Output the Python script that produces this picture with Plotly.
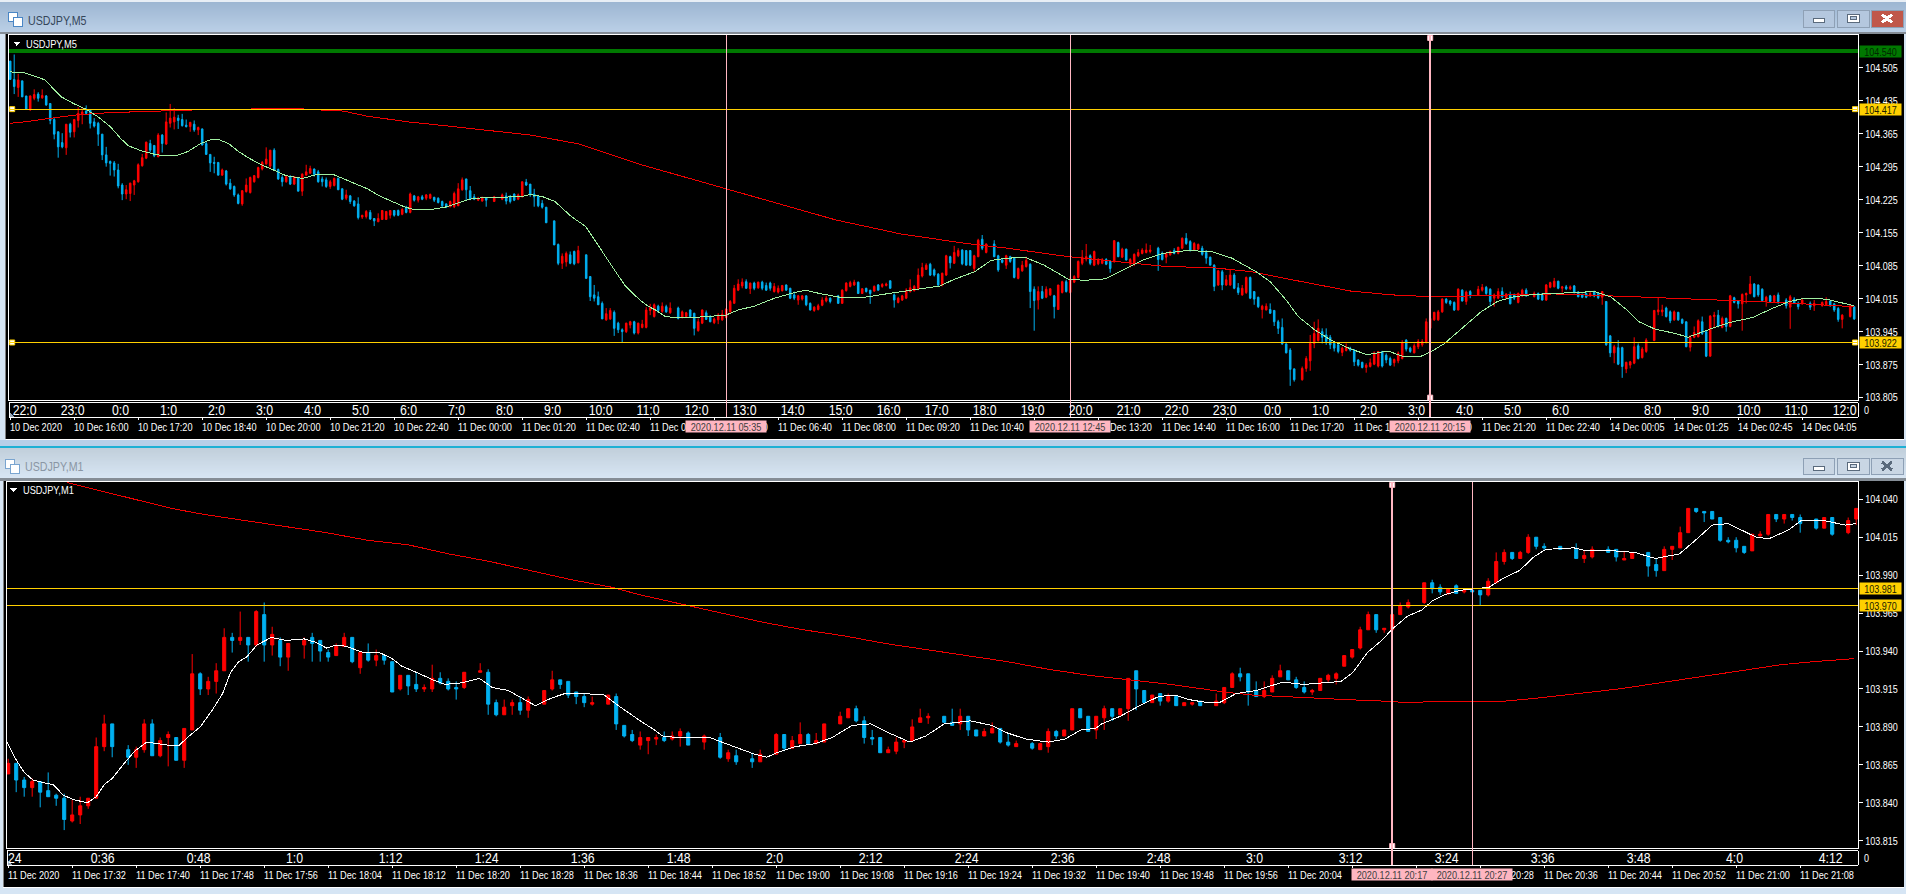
import plotly.graph_objects as go

W, H = 1906, 894
PLOT_H = 891   # height plotly leaves for paper coordinates after its own bottom reserve
FN = "Liberation Sans, sans-serif"

# ---------- M1 panel, price in points above 103.000 ----------
M1_OPEN = [
859,866,855,850,854,848,845,843,828,832,
838,843,877,892,None,875,870,875,892,871,
883,883,868,888,925,915,920,927,949,947,
949,944,964,944,947,936,None,944,949,947,
939,937,943,949,929,939,934,937,933,915,
924,918,915,915,922,920,916,916,None,926,
926,906,898,904,906,901,None,905,915,921,
920,913,910,905,None,905,910,891,885,878,
881,882,883,882,884,886,None,880,None,883,
869,871,None,869,867,None,872,885,876,879,
885,879,880,None,892,896,902,894,883,883,
873,874,880,881,893,896,None,897,893,892,
897,888,884,886,889,880,877,None,879,875,
877,887,884,888,902,897,888,896,902,898,
902,927,914,906,912,907,910,904,905,907,
None,904,906,916,925,925,914,910,913,923,
927,921,916,913,914,921,922,930,936,942,
954,964,954,954,964,969,None,972,985,982,
978,983,979,980,980,977,985,999,1005,1001,
1005,1015,1009,None,1009,None,1007,1001,1002,None,
1007,1007,1000,1001,None,1005,997,993,1007,1008,
1018,1034,1032,1032,1028,1013,1013,1009,1006,1016,
1017,1030,1027,1030,1028,None,1027,1021,1028,None,
1018,1027]
M1_HIGH = [
869,866,857,856,854,860,846,846,842,844,
843,883,898,892,None,878,877,895,895,883,
887,883,889,938,926,923,932,955,952,966,
949,967,972,956,949,945,None,949,952,947,
941,945,952,949,939,945,941,938,933,924,
924,926,918,931,926,922,920,926,None,932,
928,908,908,908,910,910,None,914,927,921,
920,913,912,910,None,911,912,891,888,887,
883,885,887,887,889,887,None,885,None,886,
875,875,None,873,875,None,886,885,884,893,
886,886,892,None,900,902,904,897,888,883,
877,883,881,895,902,899,None,897,902,902,
897,888,889,893,889,886,881,None,880,879,
889,888,888,902,902,897,897,904,902,902,
922,927,914,911,912,912,910,906,906,907,
None,912,916,926,929,925,920,920,924,931,
927,923,920,915,922,925,926,937,941,956,
966,964,955,970,972,974,None,985,987,984,
981,984,981,981,980,988,1005,1007,1005,1006,
1017,1015,1011,None,1009,None,1011,1006,1009,None,
1009,1007,1006,1005,None,1005,1001,1009,1009,1022,
1034,1034,1032,1032,1028,1015,1015,1009,1017,1019,
1030,1030,1030,1030,1030,None,1027,1028,1028,None,
1028,1034]
M1_LOW = [
859,847,844,844,837,844,838,822,827,826,
836,843,874,870,None,865,863,873,871,870,
864,868,863,888,911,911,912,927,939,944,
933,943,933,937,930,927,None,935,933,933,
933,937,943,932,925,933,930,931,913,914,
911,913,913,913,918,914,908,915,None,926,
898,897,898,898,898,896,None,905,914,915,
909,905,903,904,None,905,888,883,880,875,
872,878,880,881,877,878,None,875,None,869,
867,865,None,863,867,None,872,874,876,879,
879,879,880,None,892,896,893,879,878,873,
873,872,876,881,893,892,None,893,891,888,
884,884,884,886,879,877,877,None,875,875,
873,882,884,888,902,896,882,888,894,897,
894,901,912,906,904,906,907,904,904,904,
None,904,905,916,920,904,910,909,913,923,
921,915,912,911,914,919,918,930,935,941,
954,952,952,954,964,968,None,971,978,977,
977,978,978,979,970,976,985,997,1000,1001,
1004,1007,1006,None,1007,None,1001,998,1001,None,
1005,999,1000,1001,None,989,989,993,1000,1008,
1018,1031,1025,1027,1012,1011,1005,1004,1006,1015,
1016,1025,1024,1026,1018,None,1020,1021,1016,None,
1017,1023]
M1_CLOSE = [
866,855,850,854,847,844,843,829,832,838,
843,877,892,877,None,870,875,892,871,881,
885,868,889,925,915,920,927,949,947,949,
944,966,944,951,936,945,None,947,945,940,
936,943,949,933,939,934,937,934,913,924,
917,915,916,922,919,915,915,926,None,927,
905,898,903,906,901,908,None,914,921,918,
911,910,906,906,None,911,892,884,881,883,
883,883,881,884,887,878,None,884,None,870,
873,867,None,867,872,None,885,876,881,885,
879,881,892,None,897,902,894,883,882,873,
875,880,881,890,896,897,None,893,891,897,
888,884,887,889,880,878,879,None,876,879,
887,884,888,902,896,887,897,902,897,902,
922,915,906,911,907,910,904,906,906,904,
None,907,916,925,923,913,910,914,922,927,
921,916,913,914,922,924,925,937,941,954,
964,954,955,964,970,972,None,985,981,979,
981,978,980,979,977,986,999,1005,1001,1005,
1015,1009,1008,None,1007,None,1001,1003,1007,None,
1005,1002,1001,1005,None,996,993,1007,1009,1018,
1034,1032,1031,1027,1013,1012,1008,1005,1017,1017,
1030,1027,1030,1028,1024,None,1021,1028,1017,None,
1026,1034]
# ---------- M1 moving averages: bar position, points ----------
M1_FAST_X = [-0.15,0.8,2,3.1,4.6,5.6,6.9,8.2,9.9,11,12,13,14.5,15.8,17.3,19.9,21.4,22.4,24,25.5,26.8,27.8,28.8,29.8,31.1,32.9,34.7,37,38.3,39.8,41.1,42.3,44.4,46.4,48,49.2,51,53.1,54.6,56.6,58.9,60.5,62.5,64.5,65.9,67.9,69.6,71.9,74.5,76,77.6,79,80.5,81.8,83.6,87.7,89.2,91.8,93.3,94.8,96.1,98.4,100.9,103,105.5,107.8,110.1,112.7,114.7,117,118.5,120.3,122.9,124.9,127.2,130,132.1,134.1,135.9,136.7,139,141.8,143.8,145.8,147.6,149.9,151.4,153.5,156,159,160.2,162,164.3,166.6,168.1,169.9,171.9,172.9,174.9,176.7,178,179.5,181.5,183,185.1,186.9,188.9,190.7,192.2,195.7,197.3,200.8,203.3,205.9,208.9,210.9,213,215,216.5,218.5,220.1,222.6,224.1,226.9,229.7,231]
M1_FAST_Y = [880,870,860,855,853,852,845,842,840,844,852,856,866,874,880,878,878,883,890,901,912,926,933,936,944,949,947,948,946,942,944,943,939,939,935,930,926,921,918,919,922,916,914,908,904,909,912,912,911,905,899,894,889,884,883,883,880,875,872,870,873,877,879,883,891,892,886,880,884,892,893,894,891,886,882,880,882,888,889,892,897,905,910,911,908,906,906,912,914,919,919,918,919,920,926,939,948,954,963,967,973,977,980,981,982,988,993,1002,1007,1008,1006,1006,1005,1001,1004,1013,1023,1024,1020,1015,1014,1020,1026,1026,1023,1024]
M1_SLOW_X = [7.4,14.3,20.4,24.5,29.6,34.7,39.8,44.9,50,55.1,60.2,65.3,70.4,75.5,79,84.1,89.2,94.3,99.4,104.5,109.6,114.7,119.8,124.9,130,135.1,140.2,145.3,149.4,152,155.5,159,160.2,163.3,167.3,171.9,174.9,179.5,187.1,191.2,196.2,201.3,206.4,211.5,216.5,221.6,225.7,230.7]
M1_SLOW_Y = [1051,1042,1034,1030,1026,1022,1018,1013,1010,1004,999,993,987,982,977,971,965,959,954,950,945,941,937,933,928,924,921,918,915,913,911,910,910,909,908,907,906,907,907,909,912,915,919,923,927,931,933,935]

# ---------- M5 panel, price in points above 103.000 ----------
M5_OPEN = [
1519,1480,1463,1477,1445,1417,1440,1449,1441,1445,
1429,1395,1369,1346,1335,1385,1369,1393,1406,1413,
1415,1390,1387,1364,1320,1306,1303,1288,1256,1237,
1238,1256,1263,1297,1313,1344,1340,1316,1362,1343,
1387,1390,1398,1395,1383,1380,1385,1373,1375,1344,
1321,1304,1304,1277,1286,1260,1253,1235,1216,1242,
1240,1263,1272,1290,1301,1296,1330,1289,1272,1263,
1274,1258,1272,1243,1277,1281,1290,1284,1269,1267,
1253,1255,1270,1248,1228,1233,1222,1216,1188,1189,
1198,1185,1178,1183,1183,1192,1202,1202,1194,1209,
1198,1233,1224,1231,1228,1228,1230,1228,1221,1216,
1210,1210,1212,1246,1269,1244,1231,1224,1222,1229,
None,1221,None,1226,1233,1231,1237,1226,1231,1262,
1258,1237,1233,1217,1209,None,1180,1130,1090,1093,
1108,1115,1091,None,1108,1062,1023,1019,1005,970,
972,986,963,949,945,959,966,942,954,954,
990,977,999,988,998,985,None,995,975,977,
991,984,947,963,985,977,964,970,970,975,
987,1005,1033,1042,1051,1036,1048,1038,1050,1043,
1048,1030,1029,1032,1044,1037,1023,1012,1014,1021,
1005,990,992,1001,1010,1016,None,1021,1005,1032,
1041,1044,1050,1026,1037,1033,1031,1044,1041,1043,
1053,1023,1007,1012,1016,1030,1032,1037,1063,1077,
1088,1076,1067,1044,1065,1104,1090,1106,1118,1117,
1117,1079,1104,1141,1113,None,1131,1106,1097,1086,
1104,1101,1058,1074,1083,1088,1035,1012,1030,1018,
1023,1021,992,1028,1051,1028,1050,1060,1090,1099,
1106,1086,1089,1090,1098,1094,1094,1134,1103,1120,
1090,1088,1106,1111,1113,1115,None,1122,1111,1103,
1108,1117,1111,1122,1143,1136,1118,1120,1122,1113,
1103,1086,1044,1072,1044,1044,1065,1038,1023,1028,
1060,1030,1018,992,991,992,990,966,954,919,
906,866,None,843,867,883,920,926,945,938,
933,920,917,901,905,910,906,885,880,869,
871,876,872,903,895,888,879,883,888,927,
910,900,913,917,922,952,970,970,987,1014,
1010,1007,991,1033,1009,1030,None,1023,1033,1039,
1035,1016,1016,1030,1016,1023,1023,1007,1021,1033,
None,1019,1026,1025,1012,1039,1040,1052,1037,1040,
1036,1042,1029,1023,1026,1021,1030,1026,1018,1009,
936,900,911,911,866,874,878,915,890,903,
None,926,987,987,995,987,970,986,971,966,
912,933,934,966,945,893,977,980,954,973,
956,1017,1010,1004,1023,1026,1046,1044,1035,1009,
1021,1009,1023,None,1012,997,1014,1005,1004,None,
1005,1000,None,1000,1002,1010,1004,994,971,None,
977,998]
M5_HIGH = [
1519,1533,1492,1477,1445,1446,1459,1453,1459,1447,
1429,1398,1369,1366,1385,1388,1395,1421,1419,1425,
1417,1398,1390,1364,1337,1308,1307,1301,1260,1256,
1261,1267,1302,1322,1348,1352,1340,1366,1364,1410,
1428,1419,1405,1407,1395,1390,1393,1380,1376,1348,
1321,1316,1304,1291,1288,1269,1255,1238,1245,1270,
1274,1277,1295,1307,1336,1330,1334,1291,1277,1276,
1277,1274,1272,1281,1299,1297,1291,1288,1274,1272,
1267,1272,1272,1249,1246,1235,1224,1230,1192,1203,
1203,1185,1196,1203,1201,1203,1203,1204,1207,1212,
1240,1235,1233,1235,1237,1238,1231,1230,1223,1217,
1223,1242,1260,1272,1269,1254,1237,1231,1231,1230,
None,1233,None,1238,1240,1235,1238,1238,1263,1269,
1258,1248,1235,1224,1209,None,1180,1132,1111,1115,
1115,1117,1127,None,1108,1062,1044,1030,1009,995,
995,990,966,952,964,968,968,964,970,997,
1004,1005,1002,1007,1002,1007,None,998,990,987,
992,985,973,992,990,980,975,984,991,995,
1012,1044,1056,1058,1056,1049,1051,1051,1053,1049,
1051,1048,1043,1044,1045,1038,1030,1023,1022,1022,
1007,999,1004,1018,1021,1018,None,1023,1035,1050,
1053,1055,1051,1037,1038,1033,1043,1046,1048,1049,
1053,1026,1019,1023,1037,1056,1044,1079,1091,1090,
1091,1079,1069,1070,1108,1106,1127,1122,1120,1117,
1118,1108,1142,1150,1132,None,1139,1108,1101,1108,
1106,1103,1081,1095,1104,1090,1041,1041,1042,1041,
1037,1023,1044,1053,1055,1062,1065,1096,1118,1131,
1109,1117,1101,1101,1101,1096,1139,1136,1123,1121,
1101,1111,1120,1122,1132,1129,None,1125,1115,1113,
1117,1122,1125,1145,1154,1139,1135,1132,1127,1118,
1104,1088,1076,1076,1065,1076,1069,1048,1044,1062,
1062,1031,1019,1002,1005,1005,991,970,973,920,
910,867,None,871,893,938,966,971,952,952,
938,924,920,913,920,913,908,886,881,878,
888,903,904,904,899,892,888,903,927,929,
913,920,929,929,973,973,987,991,1016,1016,
1012,1009,1037,1035,1032,1033,None,1042,1046,1042,
1037,1026,1037,1039,1026,1030,1026,1028,1036,1037,
None,1030,1028,1026,1046,1051,1059,1053,1042,1044,
1043,1044,1031,1026,1028,1030,1032,1029,1031,1010,
938,917,927,913,881,883,933,920,912,931,
None,991,1018,1002,998,990,990,987,973,966,
938,956,971,977,947,980,987,991,977,975,
1023,1019,1012,1026,1028,1063,1048,1045,1037,1021,
1023,1023,1028,None,1016,1023,1018,1009,1016,None,
1009,1012,None,1009,1018,1012,1005,997,982,None,
1002,999]
M5_LOW = [
1480,1449,1443,1443,1417,1413,1436,1433,1439,1424,
1385,1353,1314,1334,1320,1357,1357,1378,1385,1405,
1376,1378,1339,1309,1295,1276,1274,1249,1224,1226,
1222,1235,1261,1295,1311,1325,1315,1315,1325,1341,
1378,1374,1375,1380,1378,1369,1369,1362,1340,1321,
1284,1281,1277,1276,1255,1246,1231,1215,1212,1240,
1238,1261,1270,1287,1299,1291,1287,1267,1253,1261,
1256,1256,1243,1233,1277,1281,1274,1261,1253,1250,
1248,1253,1246,1224,1224,1216,1210,1183,1184,1185,
1182,1169,1178,1182,1182,1185,1189,1190,1192,1196,
1196,1221,1219,1224,1224,1226,1220,1217,1209,1207,
1209,1207,1212,1244,1223,1224,1224,1222,1221,1210,
None,1221,None,1224,1215,1217,1222,1224,1230,1254,
1231,1210,1209,1206,1176,None,1129,1086,1078,1083,
1088,1086,1090,None,1058,1010,1009,1002,972,968,
970,936,942,922,942,952,939,939,952,952,
980,975,985,985,985,983,None,971,973,975,
975,937,945,961,970,965,961,961,968,973,
985,1005,1031,1037,1036,1025,1033,1036,1033,1032,
1032,1028,1026,1030,1032,1014,1012,1002,1011,999,
990,987,990,999,1007,1005,None,1004,1004,1030,
1039,1042,1025,1025,1028,1004,1030,1032,1038,1041,
1036,996,1005,1010,1014,1028,1030,1033,1060,1076,
1063,1062,1042,1041,1063,1079,1089,1103,1086,1086,
1084,1072,1103,1118,1111,None,1103,1072,1090,1078,
1091,1058,1056,1072,1081,995,947,992,1014,1016,
1021,973,991,1026,1028,1026,1048,1058,1086,1094,
1086,1084,1086,1088,1086,1070,1091,1103,1101,1096,
1081,1084,1103,1109,1111,1111,None,1074,1096,1090,
1106,1109,1109,1120,1129,1115,1116,1118,1106,1089,
1086,1031,1042,1033,1042,1042,1035,1023,1021,1025,
1014,1002,995,973,990,983,957,940,917,899,
830,839,None,841,860,862,910,924,920,917,
908,903,899,893,903,903,872,871,867,858,
869,874,869,869,878,872,871,878,886,903,
900,899,908,913,920,949,968,968,985,1004,
1000,989,990,1009,1002,1016,None,1021,1030,1023,
998,998,1014,1016,1014,1003,1012,1005,1019,1019,
None,1018,1012,1011,1010,1037,1039,1035,1028,1033,
1033,1026,1018,1016,1016,1019,1018,1014,1002,915,
891,878,874,847,857,867,876,886,888,900,
None,925,980,978,975,963,968,968,961,912,
903,931,933,938,891,892,952,954,952,945,
954,1005,994,947,1005,1024,1018,1019,1009,998,
1007,1007,1004,None,994,951,1004,992,1002,None,
991,989,None,998,1000,998,987,966,952,None,
975,970]
M5_CLOSE = [
1480,1465,1479,1443,1417,1445,1448,1440,1446,1426,
1393,1364,1337,1337,1385,1368,1395,1408,1411,1408,
1387,1381,1364,1320,1303,1302,1288,1254,1237,1246,
1260,1265,1299,1314,1347,1330,1318,1362,1344,1390,
1398,1400,1393,1382,1380,1389,1373,1378,1341,1321,
1303,1302,1277,1288,1258,1248,1235,1217,1244,1256,
1272,1276,1293,1304,1311,1330,1287,1269,1263,1274,
1258,1274,1243,1279,1284,1291,1279,1263,1263,1253,
1263,1270,1246,1226,1235,1221,1212,1187,1192,1200,
1184,1180,1185,1202,1200,1202,1192,1192,1204,1198,
1237,1224,1231,1226,1235,1236,1224,1219,1212,1209,
1221,1238,1248,1267,1246,1226,1226,1228,1230,1224,
None,1231,None,1235,1222,1221,1224,1235,1263,1256,
1237,1231,1212,1209,1176,None,1129,1090,1105,1111,
1090,1089,1117,None,1058,1019,1016,1002,972,983,
990,952,949,945,963,966,942,963,961,991,
996,1002,990,999,987,995,None,973,987,985,
977,952,966,991,971,966,972,980,982,993,
1009,1037,1046,1050,1037,1048,1037,1050,1037,1033,
1037,1041,1037,1043,1033,1016,1016,1021,1021,1002,
991,997,1000,1012,1016,1009,None,1005,1033,1048,
1049,1050,1026,1036,1030,1026,1041,1033,1045,1046,
1037,1012,1016,1021,1033,1038,1041,1065,1081,1086,
1065,1065,1044,1069,1106,1091,1113,1117,1089,1086,
1086,1106,1139,1122,1131,None,1104,1076,1092,1106,
1094,1060,1079,1086,1096,1030,1011,1030,1016,1035,
1036,998,1044,1051,1030,1055,1062,1094,1103,1104,
1090,1115,1097,1098,1088,1079,1138,1104,1120,1097,
1098,1109,1113,1118,1118,1118,None,1098,1098,1111,
1115,1111,1124,1143,1132,1117,1132,1130,1109,1101,
1086,1041,1074,1044,1055,1065,1037,1028,1037,1060,
1016,1014,998,999,999,984,966,952,919,900,
865,843,None,867,888,920,941,952,933,924,
917,910,903,910,913,906,881,874,869,874,
879,900,903,872,885,874,886,899,922,908,
903,915,924,924,966,973,986,987,1014,1007,
1004,991,1035,1010,1029,1023,None,1035,1039,1026,
1009,1023,1030,1019,1025,1004,1016,1026,1033,1021,
None,1026,1014,1012,1044,1049,1052,1037,1040,1036,
1040,1028,1019,1018,1018,1026,1021,1017,1030,917,
900,913,876,871,880,881,913,888,908,927,
None,990,991,991,977,968,987,970,963,913,
933,943,968,941,893,978,980,956,973,956,
1021,1007,1004,1024,1026,1046,1019,1023,1011,1018,
1009,1021,1009,None,1000,1019,1005,998,1012,None,
997,1005,None,1007,1009,1000,991,971,980,None,
1000,972]
M5_FAST_X = [0,3.6,6.1,8.7,10.7,12.8,15.8,18.9,21.9,25,27.6,29.6,32.7,36.2,38.3,41.3,44.4,47.4,50,52,54.6,57.1,59.7,62.8,65.8,68.9,73,77,80.6,83.2,86.2,89.3,92.3,95.4,98.5,100.5,105.1,108.7,111.7,114.8,118.9,124,127.6,130.1,133.2,136.2,140.3,143.9,147.4,150.5,153.6,157.4,159.5,161.5,163.6,165.6,170.7,174.8,178.9,182,186,191.1,195.2,198.8,202.3,207.4,213.6,219.7,222.8,226.8,232.5,236,241.1,245.2,249.3,253.9,258.5,264.6,268.7,273.8,277.9,282.9,288.1,294.2,300.3,305.4,311.5,315,319,322,326.1,330.2,335.2,339.3,344.4,348.4,352.5,355.5,358.6,363.6,367.7,371.8,375.8,380.9,385.9,396.1,400.1,404.2,407.2,411.3,416.4,419.4,425.5,429.6,435.6,440.7,444.8,448.8,453.9,461]
M5_FAST_Y = [1496,1494,1487,1479,1461,1443,1429,1417,1401,1380,1355,1339,1329,1321,1318,1318,1327,1343,1352,1353,1344,1327,1313,1299,1288,1276,1270,1279,1279,1270,1258,1248,1233,1221,1210,1205,1204,1209,1217,1226,1230,1230,1231,1236,1231,1221,1189,1168,1122,1083,1044,1012,999,990,978,975,975,978,980,991,999,1016,1026,1033,1026,1018,1018,1026,1030,1036,1042,1056,1072,1096,1101,1102,1086,1056,1054,1057,1074,1096,1111,1117,1115,1101,1072,1051,1012,977,949,927,908,896,904,892,892,904,920,956,987,1009,1019,1024,1026,1030,1019,991,966,950,941,933,952,964,975,995,1009,1016,1014,1000]
M5_SLOW_X = [0,3.6,7.7,11.7,16.8,21.9,26,34.2,44.4,64.8,71.9,78,83.2,89.3,99.5,109.7,119.9,130.1,142.3,150.5,157.4,206.4,222.8,239.1,249.3,264.6,275.8,289.1,300.3,310.5,315,320,325.1,335.2,345.4,355.5,365.7,386,406.2,426.5,441.7,461]
M5_SLOW_Y = [1387,1390,1395,1400,1405,1408,1410,1412,1415,1418,1418,1415,1413,1402,1390,1381,1371,1362,1343,1320,1300,1182,1152,1132,1122,1104,1094,1083,1081,1072,1064,1056,1048,1031,1023,1019,1021,1025,1019,1012,1007,998]

# ---------- axes, levels and labels ----------
M5_YTICKS = [104.505,104.435,104.365,104.295,104.225,104.155,104.085,104.015,103.945,103.875,103.805]
M1_YTICKS = [104.040,104.015,103.990,103.965,103.940,103.915,103.890,103.865,103.840,103.815]
M5_LEVELS = [104.417, 103.922]
M5_GREEN_LEVEL = 104.540
M1_LEVELS = [103.981, 103.970]
M5_TIME_POS = [4+12*k for k in range(33)] + [411,423,435,447,459]
M5_TIME_TXT = ["22:0","23:0"]+[f"{h}:0" for h in range(0,24)]+[f"{h}:0" for h in range(0,7)]+["8:0","9:0","10:0","11:0","12:0"]
M5_DATES = ["10 Dec 2020","10 Dec 16:00","10 Dec 17:20","10 Dec 18:40","10 Dec 20:00","10 Dec 21:20","10 Dec 22:40","11 Dec 00:00","11 Dec 01:20","11 Dec 02:40","11 Dec 04:00","11 Dec 05:20","11 Dec 06:40","11 Dec 08:00","11 Dec 09:20","11 Dec 10:40","11 Dec 12:00","11 Dec 13:20","11 Dec 14:40","11 Dec 16:00","11 Dec 17:20","11 Dec 18:40","11 Dec 20:00","11 Dec 21:20","11 Dec 22:40","14 Dec 00:05","14 Dec 01:25","14 Dec 02:45","14 Dec 04:05"]
M5_VLINES = [(179,"2020.12.11 05:35"),(265,"2020.12.11 12:45"),(355,"2020.12.11 20:15")]
M1_TIME_POS = [12*k for k in range(1,20)]
M1_TIME_TXT = ["0:36","0:48","1:0","1:12","1:24","1:36","1:48","2:0","2:12","2:24","2:36","2:48","3:0","3:12","3:24","3:36","3:48","4:0","4:12"]
M1_DATES = ["11 Dec 2020","11 Dec 17:32","11 Dec 17:40","11 Dec 17:48","11 Dec 17:56","11 Dec 18:04","11 Dec 18:12","11 Dec 18:20","11 Dec 18:28","11 Dec 18:36","11 Dec 18:44","11 Dec 18:52","11 Dec 19:00","11 Dec 19:08","11 Dec 19:16","11 Dec 19:24","11 Dec 19:32","11 Dec 19:40","11 Dec 19:48","11 Dec 19:56","11 Dec 20:04","11 Dec 20:12","11 Dec 20:20","11 Dec 20:28","11 Dec 20:36","11 Dec 20:44","11 Dec 20:52","11 Dec 21:00","11 Dec 21:08"]
M1_VLINES = [(173,"2020.12.11 20:17"),(183,"2020.12.11 20:27")]

def price(seq):
    return [None if v is None else (103000+v)/1000 for v in seq]
def px(x): return x/W
def py(y): return 1-y/PLOT_H

RED="#FF0000"; CYAN="#00B0F0"; GOLD="#FFD000"; PINK="#FFB6C1"

fig = go.Figure()
def candles(o,h,l,c,xa,ya):
    fig.add_trace(go.Candlestick(x=list(range(len(o))),open=price(o),high=price(h),low=price(l),close=price(c),
        xaxis=xa,yaxis=ya,showlegend=False,hoverinfo="skip",whiskerwidth=0,
        increasing=dict(line=dict(color=RED,width=1),fillcolor=RED),
        decreasing=dict(line=dict(color=CYAN,width=1),fillcolor=CYAN)))
def curve(x,y,color,xa,ya):
    fig.add_trace(go.Scatter(x=x,y=price(y),mode="lines",line=dict(color=color,width=1),
        xaxis=xa,yaxis=ya,showlegend=False,hoverinfo="skip"))

candles(M5_OPEN,M5_HIGH,M5_LOW,M5_CLOSE,"x","y")
curve(M5_SLOW_X,M5_SLOW_Y,"#F00000","x","y")
curve(M5_FAST_X,M5_FAST_Y,"#A0F0A0","x","y")
candles(M1_OPEN,M1_HIGH,M1_LOW,M1_CLOSE,"x2","y2")
curve(M1_SLOW_X,M1_SLOW_Y,"#F00000","x2","y2")
curve(M1_FAST_X,M1_FAST_Y,"#FFFFFF","x2","y2")

# level anchors and vertical-line anchors
fig.add_trace(go.Scatter(x=[0.5,0.5,461.2,461.2],y=M5_LEVELS+M5_LEVELS,mode="markers",xaxis="x",yaxis="y",showlegend=False,hoverinfo="skip",
    marker=dict(symbol="square",size=5,color="#FFFFFF",line=dict(color=GOLD,width=1))))
fig.add_trace(go.Scatter(x=[355,355],y=[104.568,103.805],mode="markers",xaxis="x",yaxis="y",showlegend=False,hoverinfo="skip",
    marker=dict(symbol="square",size=5,color="#FFFFFF",line=dict(color=PINK,width=1))))
fig.add_trace(go.Scatter(x=[173,173],y=[104.0495,103.8115],mode="markers",xaxis="x2",yaxis="y2",showlegend=False,hoverinfo="skip",
    marker=dict(symbol="square",size=5,color="#FFFFFF",line=dict(color=PINK,width=1))))

shapes=[]; ann=[]
def rect(x0,y0,x1,y1,fill,line=None,lw=1,layer="below"):
    shapes.append(dict(type="rect",xref="paper",yref="paper",x0=px(x0),x1=px(x1),y0=py(y0),y1=py(y1),
        fillcolor=fill,line=dict(color=line or fill,width=lw if line else 0),layer=layer))
def hline(x0,x1,y,color="#FFFFFF",lw=1,layer="above"):
    shapes.append(dict(type="line",xref="paper",yref="paper",x0=px(x0),x1=px(x1),y0=py(y),y1=py(y),line=dict(color=color,width=lw),layer=layer))
def vline(x,y0,y1,color="#FFFFFF",lw=1):
    shapes.append(dict(type="line",xref="paper",yref="paper",x0=px(x),x1=px(x),y0=py(y0),y1=py(y1),line=dict(color=color,width=lw),layer="above"))
def lerp(a,b,t):
    return "#%02x%02x%02x"%tuple(round(a[i]+(b[i]-a[i])*t) for i in range(3))
def gradient(y0,y1,a,b):
    n=y1-y0
    for k in range(n):
        rect(0,y0+k,W,y0+k+1,lerp(a,b,k/max(n-1,1)))
def tri(x0,x1,y0,y1):
    shapes.append(dict(type="path",xref="paper",yref="paper",layer="above",fillcolor="#FFFFFF",line=dict(color="#FFFFFF",width=0),
        path=f"M {px(x0)} {py(y0)} L {px(x1)} {py(y0)} L {px((x0+x1)/2)} {py(y1)} Z"))
def text(t,x,y,size,color,xanchor="left",xref="paper",xshift=0,**kw):
    ann.append(dict(text=t,x=px(x) if xref=="paper" else x,y=py(y),xref=xref,yref="paper",xanchor=xanchor,yanchor="middle",showarrow=False,
        align=xanchor,font=dict(family=FN,size=size,color=color),borderpad=0,xshift=xshift,**kw))

# window chrome
rect(0,0,W,2,"#e8eef5")
gradient(2,32,(157,182,210),(186,207,230))
rect(0,32,W,34,"#858d96")
rect(5,34,1904,439,"#000000")
rect(5,34,6,439,"#808080")
rect(6,439,1904,440,"#FFFFFF")
rect(0,440,W,446,"#b8cfe8")
rect(0,446,W,448,"#1fb0d4")
gradient(448,478,(193,207,219),(215,229,243))
rect(0,478,W,481,"#858d96")
rect(3,481,1904,887,"#000000")
rect(3,481,4,887,"#808080")
rect(3,887,1904,888,"#FFFFFF")
rect(0,888,W,H+2,"#d6e5f4")

def icon(x,y,c):
    rect(x,y,x+9,y+9,"#FFFFFF",c)
    rect(x+5,y+5,x+14,y+14,"#FFFFFF",c)
icon(8,12,"#4a86c5"); icon(5,459,"#7aa5d0")
text("USDJPY,M5",27,20,13,"#35465a")
text("USDJPY,M1",24,467,13,"#8a96a4")
def buttons(y0,y1,fill,close,glyph):
    for x0,x1,f in [(1803,1834,fill),(1837,1869,fill),(1871,1903,close)]:
        rect(x0,y0,x1,y1,f,"#8ea0b5")
    m=(y0+y1)/2
    rect(1813,m,1824,m+4,"#FFFFFF",glyph)
    rect(1847,m-4,1859,m+4,"#FFFFFF",glyph)
    rect(1850,m-2,1856,m+1,fill,glyph)
    for b in (1,-1):
        shapes.append(dict(type="line",xref="paper",yref="paper",x0=px(1882),x1=px(1892),y0=py(m-4*b),y1=py(m+4*b),
            line=dict(color="#FFFFFF" if close!=fill else glyph,width=3),layer="above"))
buttons(10,27,"#b4c7de","#c0574a","#5a6a7c")
buttons(458,474,"#c9d6e4","#c9d6e4","#5a6a7c")

# in-plot symbol names
tri(13.5,20,42,46); text("USDJPY,M5",25,44,11.3,"#FFFFFF")
tri(10,17,488,492); text("USDJPY,M1",22,490,11.3,"#FFFFFF")

# axis strips
for top,mid,bot,left in [(402.5,417,438,9),(850.5,865,886,7)]:
    hline(left,1858,top); hline(left,1858,mid)
    vline(left,top,mid); vline(1858,top,mid)
    shapes.append(dict(type="path",xref="paper",yref="paper",layer="above",fillcolor="#9aa8b8",line=dict(width=0),
        path=f"M {px(left+1)} {py(mid)} L {px(left+5)} {py(mid)} L {px(left+1)} {py(mid-5)} Z"))
text("0",1863,410,11,"#FFFFFF"); text("0",1863,858,11,"#FFFFFF")

for pos,t in zip(M5_TIME_POS,M5_TIME_TXT):
    text(t,pos,409.7,15,"#FFFFFF","center","x",-2)
text("24",7,857.7,15,"#FFFFFF")
for pos,t in zip(M1_TIME_POS,M1_TIME_TXT):
    text(t,pos,857.7,15,"#FFFFFF","center","x2",-2)
for k,t in enumerate(M5_DATES):
    pos=16*k
    shapes.append(dict(type="line",xref="x",yref="paper",x0=pos,x1=pos,y0=py(417),y1=py(420),line=dict(color="#FFFFFF",width=1),layer="above"))
    text(t,pos,426.7,11.2,"#FFFFFF","left","x",-1)
for k,t in enumerate(M1_DATES):
    pos=8*k
    shapes.append(dict(type="line",xref="x2",yref="paper",x0=pos,x1=pos,y0=py(865),y1=py(868),line=dict(color="#FFFFFF",width=1),layer="above"))
    text(t,pos,874.7,11.2,"#FFFFFF","left","x2",-1)

# levels
for lv in M5_LEVELS:
    shapes.append(dict(type="line",xref="paper",yref="y",x0=px(9),x1=px(1858),y0=lv,y1=lv,line=dict(color=GOLD,width=1),layer="above"))
shapes.append(dict(type="line",xref="paper",yref="y",x0=px(9),x1=px(1858),y0=M5_GREEN_LEVEL,y1=M5_GREEN_LEVEL,line=dict(color="#007800",width=4),layer="above"))
for lv in M1_LEVELS:
    shapes.append(dict(type="line",xref="paper",yref="y2",x0=px(7),x1=px(1858),y0=lv,y1=lv,line=dict(color=GOLD,width=1),layer="above"))
def tag(v,yref,bg,fg="#202000"):
    ann.append(dict(text=f"{v:.3f}",x=px(1859),y=v,xref="paper",yref=yref,xanchor="left",yanchor="middle",showarrow=False,
        width=41,height=11,bgcolor=bg,borderpad=0,align="center",font=dict(family=FN,size=11,color=fg)))
tag(M5_GREEN_LEVEL,"y","#007800","#002800")
for lv in M5_LEVELS: tag(lv,"y",GOLD)
for lv in M1_LEVELS: tag(lv,"y2",GOLD)

# time lines with pink date tags
for idx,(pos,t) in enumerate(M5_VLINES):
    shapes.append(dict(type="line",xref="x",yref="paper",x0=pos,x1=pos,y0=py(35),y1=py(417),
        line=dict(color=PINK,width=2 if idx==2 else 1),layer="above"))
    ann.append(dict(text=t,x=pos,y=py(426.5),xref="x",yref="paper",xanchor="center",yanchor="middle",showarrow=False,
        width=80,height=11,bgcolor=PINK,borderpad=0,align="center",font=dict(family=FN,size=11.2,color="#404040")))
for idx,(pos,t) in enumerate(M1_VLINES):
    shapes.append(dict(type="line",xref="x2",yref="paper",x0=pos,x1=pos,y0=py(482),y1=py(865),
        line=dict(color=PINK,width=2 if idx==0 else 1),layer="above"))
    ann.append(dict(text=t,x=pos,y=py(874.5),xref="x2",yref="paper",xanchor="center",yanchor="middle",showarrow=False,
        width=80,height=11,bgcolor=PINK,borderpad=0,align="center",font=dict(family=FN,size=11.2,color="#404040")))

def xaxis(left,rng):
    return dict(domain=[px(left),px(1858)],range=rng,showticklabels=False,ticks="",showgrid=False,zeroline=False,
        showline=True,linecolor="#FFFFFF",linewidth=1,mirror=True,rangeslider=dict(visible=False),fixedrange=True)
def yaxis(y0,y1,rng,vals,anchor):
    return dict(domain=[py(y1),py(y0)],range=rng,side="right",anchor=anchor,tickvals=vals,ticktext=[f"{v:.3f}" for v in vals],
        ticks="outside",ticklen=4,tickcolor="#FFFFFF",tickwidth=1,showgrid=False,zeroline=False,showline=True,linecolor="#FFFFFF",
        linewidth=1,mirror=True,tickfont=dict(family=FN,size=11,color="#FFFFFF"),fixedrange=True)

fig.update_layout(width=W,height=H,margin=dict(l=0,r=0,t=0,b=0,pad=0),autosize=False,
    paper_bgcolor="#d6e5f4",plot_bgcolor="#000000",boxgap=0.45,hovermode=False,showlegend=False,
    xaxis=xaxis(9,[-0.3,461.95]),yaxis=yaxis(35,400,[103.8000,104.5743],M5_YTICKS,"x"),
    xaxis2=dict(xaxis(7,[-0.15,231.225]),anchor="y2"),yaxis2=yaxis(482,848,[103.8102,104.0514],M1_YTICKS,"x2"),
    shapes=shapes,annotations=ann)

POST = """
document.body.style.margin='0';document.body.style.overflow='hidden';
document.querySelectorAll('.main-svg text').forEach(function(t){
  var L=t.getComputedTextLength();
  if(L>0){t.setAttribute('textLength',L*0.82);t.setAttribute('lengthAdjust','spacingAndGlyphs');}
});
document.querySelectorAll('.shapelayer path, .scatterlayer .js-line').forEach(function(p){p.style.shapeRendering='crispEdges';});
"""
fig.write_html("out.html",config=dict(displayModeBar=False),post_script=POST)
